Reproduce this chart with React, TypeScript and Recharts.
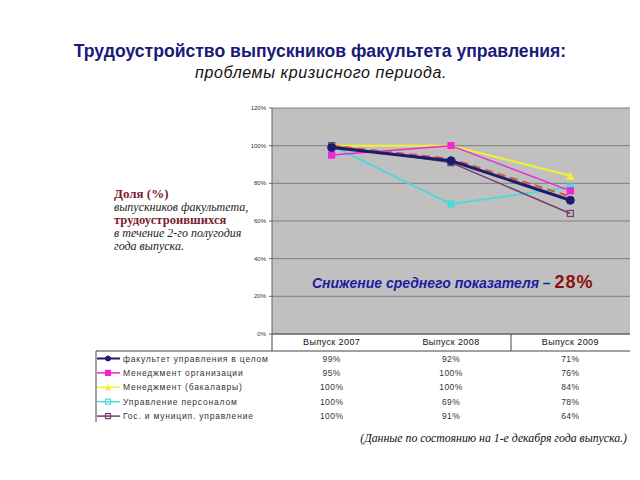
import { CartesianGrid, Line, LineChart, XAxis, YAxis } from "recharts";

const categories = ["Выпуск 2007", "Выпуск 2008", "Выпуск 2009"];
const faculty = [99, 92, 71];
const mgmtOrg = [95, 100, 76];
const mgmtBach = [100, 100, 84];
const personnel = [100, 69, 78];
const gosMun = [100, 91, 64];
const trend = [100, 93, 73];
const yTicks = [0, 20, 40, 60, 80, 100, 120];

const seriesNames = [
  "факультет управления в целом",
  "Менеджмент организации",
  "Менеджмент (бакалавры)",
  "Управление персоналом",
  "Гос. и муницип. управление",
];

const data = categories.map((name, i) => ({
  name,
  faculty: faculty[i],
  mgmtOrg: mgmtOrg[i],
  mgmtBach: mgmtBach[i],
  personnel: personnel[i],
  gosMun: gosMun[i],
  trend: trend[i],
}));

const W = 640;
const H = 480;
const plotLeft = 272;
const plotRight = 630;
const plotTop = 108;
const plotBottom = 334;
const band = (plotRight - plotLeft) / categories.length;

type Shape = "circle" | "square" | "triangle";

const rows = [
  { key: "faculty", values: faculty, color: "#1c1c6e", shape: "circle" as Shape, filled: true },
  { key: "mgmtOrg", values: mgmtOrg, color: "#f024d8", shape: "square" as Shape, filled: true },
  { key: "mgmtBach", values: mgmtBach, color: "#f2f230", shape: "triangle" as Shape, filled: true },
  { key: "personnel", values: personnel, color: "#4fd8dc", shape: "square" as Shape, filled: false },
  { key: "gosMun", values: gosMun, color: "#7a3a6c", shape: "square" as Shape, filled: false },
];

function Marker({ cx, cy, shape, color, filled, size }: any) {
  const s = size;
  if (shape === "circle") {
    return <circle cx={cx} cy={cy} r={s / 2} fill={color} stroke={color} />;
  }
  if (shape === "triangle") {
    return (
      <polygon
        points={`${cx},${cy - s / 2} ${cx + s / 2},${cy + s / 2} ${cx - s / 2},${cy + s / 2}`}
        fill={color}
        stroke={color}
      />
    );
  }
  return (
    <rect
      x={cx - s / 2}
      y={cy - s / 2}
      width={s}
      height={s}
      fill={filled ? color : "none"}
      stroke={color}
      strokeWidth={1.2}
    />
  );
}

const makeDot = (shape: Shape, color: string, filled: boolean, size: number) =>
  (props: any) => (
    <Marker
      key={`${shape}-${color}-${props.index}`}
      cx={props.cx}
      cy={props.cy}
      shape={shape}
      color={color}
      filled={filled}
      size={size}
    />
  );

export default function App() {
  const rowY = (i: number) => 358.5 + i * 14.4;

  return (
    <div
      style={{
        position: "absolute",
        left: 0,
        top: 0,
        width: W,
        height: H,
        background: "#fff",
        fontFamily: "Arial, 'Liberation Sans', sans-serif",
      }}
    >
      <LineChart
        width={W}
        height={H}
        data={data}
        margin={{ top: plotTop, right: W - plotRight, left: plotLeft - 30, bottom: H - plotBottom - 16 }}
      >
        <CartesianGrid vertical={false} fill="#c0c0c0" stroke="#7f7f7f" fillOpacity={1} />
        <XAxis
          dataKey="name"
          scale="band"
          height={16}
          axisLine={{ stroke: "#555" }}
          tickLine={false}
          tickSize={0}
          tickMargin={5}
          tick={{ fontSize: 9, fill: "#111", letterSpacing: 0.4 }}
        />
        <YAxis
          width={30}
          domain={[0, 120]}
          ticks={yTicks}
          interval={0}
          tickFormatter={(v) => `${v}%`}
          tick={{ fontSize: 6, fill: "#333" }}
          tickSize={3}
          tickMargin={3}
          axisLine={{ stroke: "#666" }}
          tickLine={{ stroke: "#666" }}
        />
        <Line
          dataKey="personnel"
          stroke="#4fd8dc"
          strokeWidth={2}
          dot={makeDot("square", "#4fd8dc", true, 6)}
          isAnimationActive={false}
        />
        <Line
          dataKey="mgmtBach"
          stroke="#f2f230"
          strokeWidth={2}
          dot={makeDot("triangle", "#f2f230", true, 7)}
          isAnimationActive={false}
        />
        <Line
          dataKey="mgmtOrg"
          stroke="#f024d8"
          strokeWidth={1.5}
          dot={makeDot("square", "#f024d8", true, 6)}
          isAnimationActive={false}
        />
        <Line
          dataKey="gosMun"
          stroke="#7a3a6c"
          strokeWidth={1.5}
          dot={makeDot("square", "#7a3a6c", false, 6)}
          isAnimationActive={false}
        />
        <Line
          dataKey="trend"
          stroke="#d0583c"
          strokeWidth={2}
          strokeDasharray="8 5"
          dot={false}
          isAnimationActive={false}
        />
        <Line
          dataKey="faculty"
          stroke="#1c1c6e"
          strokeWidth={3}
          dot={makeDot("circle", "#1c1c6e", true, 8)}
          isAnimationActive={false}
        />
      </LineChart>

      <svg
        width={W}
        height={H}
        style={{ position: "absolute", left: 0, top: 0, pointerEvents: "none" }}
      >
        <text
          x={320}
          y={57}
          textAnchor="middle"
          fontSize={17.6}
          fontWeight="bold"
          fill="#1a1a78"
          fontFamily="Arial, 'Liberation Sans', sans-serif"
        >
          Трудоустройство выпускников факультета управления:
        </text>
        <text
          x={321}
          y={78}
          textAnchor="middle"
          fontSize={16}
          fontStyle="italic"
          letterSpacing={0.6}
          fill="#111"
          fontFamily="Arial, 'Liberation Sans', sans-serif"
        >
          проблемы кризисного периода.
        </text>

        <g fontFamily="'Liberation Serif', 'Times New Roman', serif">
          <text x={114} y={198} fontSize={13} fontWeight="bold" fill="#7a1c30">Доля (%)</text>
          <text x={114} y={211} fontSize={12} fontStyle="italic" fill="#222">выпускников факультета,</text>
          <text x={114} y={224} fontSize={12.6} fontWeight="bold" fill="#7a1c30">трудоустроившихся</text>
          <text x={114} y={237} fontSize={12} fontStyle="italic" fill="#222">в течение 2-го полугодия</text>
          <text x={114} y={250} fontSize={12} fontStyle="italic" fill="#222">года выпуска.</text>
        </g>

        <text x={312} y={288} fontSize={14} fontWeight="bold" fontStyle="italic" fill="#1c1ca0">
          Снижение среднего показателя –{" "}
          <tspan fontSize={18} fontStyle="normal" letterSpacing={1} fill="#8b1010">28%</tspan>
        </text>

        {/* table below the plot */}
        <line x1={96} y1={351} x2={plotRight} y2={351} stroke="#444" />
        <line x1={96} y1={351} x2={96} y2={422} stroke="#444" />
        <line x1={plotLeft} y1={plotBottom} x2={plotLeft} y2={351} stroke="#444" />
        <line x1={511} y1={plotBottom} x2={511} y2={351} stroke="#444" />

        {rows.map((r, i) => (
          <g key={r.key}>
            <line x1={97} y1={rowY(i)} x2={120} y2={rowY(i)} stroke={r.color} strokeWidth={i === 0 ? 2 : 1.5} />
            <Marker cx={108} cy={rowY(i)} shape={r.shape} color={r.color} filled={r.filled} size={5} />
            <text x={123} y={rowY(i) + 3} fontSize={8.5} letterSpacing={0.8} fill="#333">
              {seriesNames[i]}
            </text>
            {r.values.map((v, j) => (
              <text
                key={j}
                x={plotLeft + (j + 0.5) * band}
                y={rowY(i) + 3}
                fontSize={8.5}
                letterSpacing={0.4}
                fill="#333"
                textAnchor="middle"
              >
                {v}%
              </text>
            ))}
          </g>
        ))}

        <text
          x={627}
          y={442}
          textAnchor="end"
          fontSize={11.8}
          fontStyle="italic"
          fill="#111"
          fontFamily="'Liberation Serif', 'Times New Roman', serif"
        >
          (Данные по состоянию на 1-е декабря года выпуска.)
        </text>
      </svg>
    </div>
  );
}
